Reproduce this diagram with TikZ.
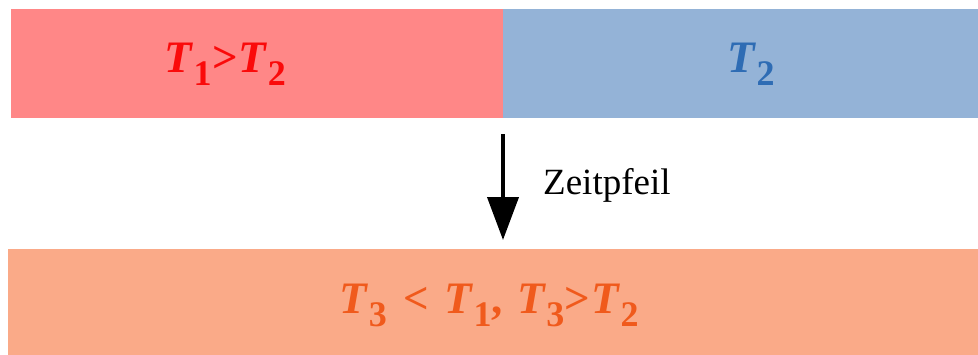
\documentclass[tikz,border=0pt]{standalone}
\usepackage{fontspec}
\setmainfont{Liberation Serif}
\usetikzlibrary{arrows.meta}
\definecolor{redfill}{HTML}{FF8787}
\definecolor{bluefill}{HTML}{94B3D7}
\definecolor{orangefill}{HTML}{FAAA88}
\definecolor{redtext}{HTML}{FA0A0A}
\definecolor{bluetext}{HTML}{2E6CB4}
\definecolor{orangetext}{HTML}{F05A1C}
\newcommand{\TT}[1]{\textbf{\textit{T}}\kern0.5pt\raisebox{-13pt}{\fontsize{36}{36}\selectfont\bfseries #1}}
\newcommand{\gtr}{\kern0.5pt\textbf{>}\kern0.5pt}
\tikzset{
  bar/.style={rectangle, inner sep=0pt, outer sep=0pt, anchor=north west, draw=none},
  formula/.style={anchor=base, inner sep=0pt, font=\fontsize{45}{50}\selectfont},
}
\begin{document}
\begin{tikzpicture}[x=1pt,y=-1pt]
\useasboundingbox (0,0) rectangle (978,354);
\fill[white] (0,0) rectangle (978,354);
\node[bar, fill=redfill, minimum width=492pt, minimum height=109pt] (left) at (11,9) {};
\node[bar, fill=bluefill, minimum width=475pt, minimum height=109pt] (right) at (503,9) {};
\node[bar, fill=orangefill, minimum width=970pt, minimum height=106pt] (bottom) at (8,249) {};
\node[formula, text=redtext] (lefttext) at (225,72) {\TT{1}\gtr\TT{2}};
\node[formula, text=bluetext] (righttext) at (751,72) {\TT{2}};
\node[formula, text=orangetext] (bottomtext) at (489,313) {\TT{3}\kern5pt\ \textbf{<}\ \kern4pt\TT{1}\textbf{,}\kern3pt\ \TT{3}\gtr\TT{2}};
\coordinate (start) at (left.south east);
\coordinate (end) at (bottom.north -| start);
\draw[line width=4pt, -{Triangle[length=43pt,width=31pt]}, shorten <=16pt, shorten >=9pt] (start) -- (end);
\node[anchor=base west, inner sep=0pt, font=\fontsize{37}{40}\selectfont] (label) at (543,194) {Zeitpfeil};
\end{tikzpicture}
\end{document}
